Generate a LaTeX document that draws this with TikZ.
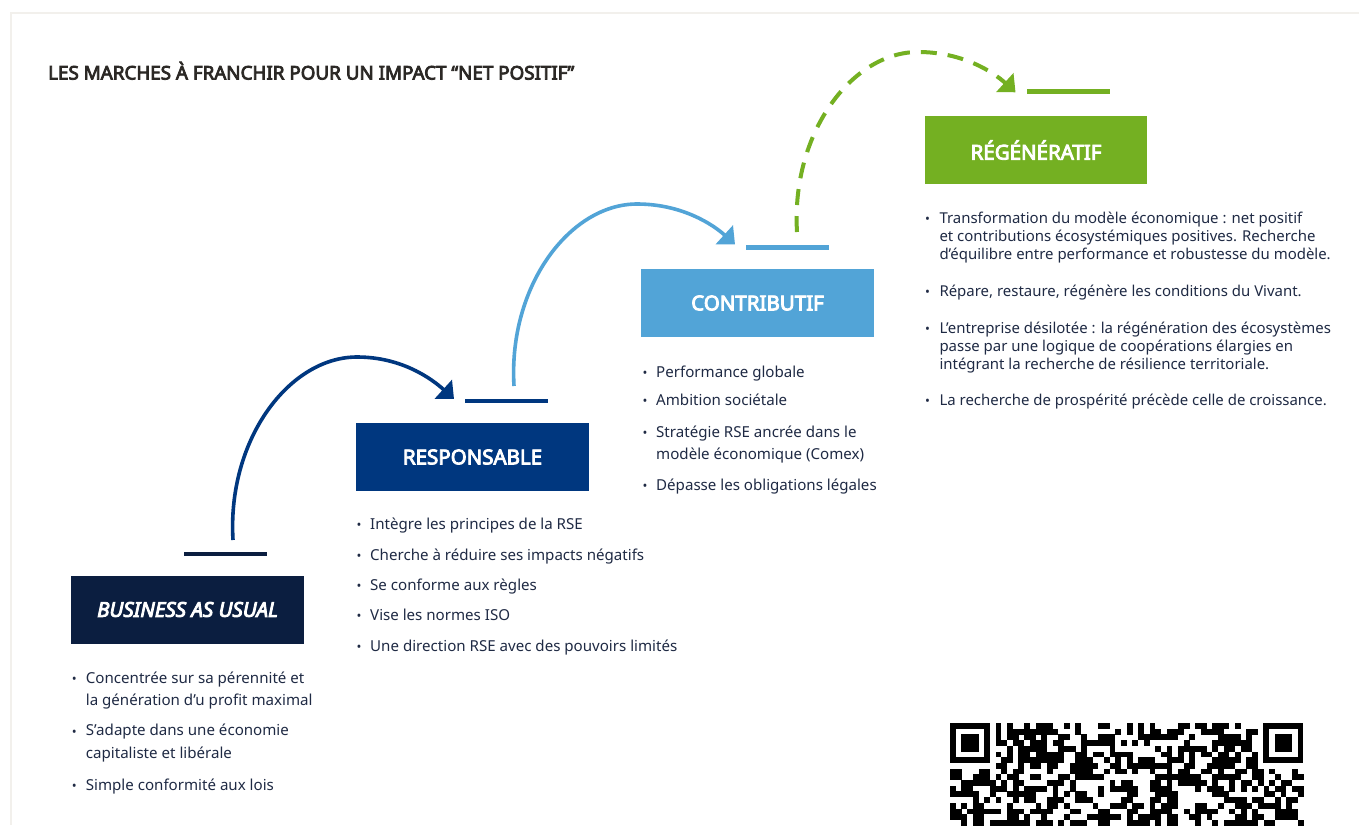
\documentclass[tikz,border=0pt]{standalone}
\usepackage{fontspec}
\setmainfont{Noto Sans}[AutoFakeBold=4.2]
\newfontfamily\bifont{Noto Sans}[FakeBold=4.2]
\usetikzlibrary{arrows.meta,calc}
\definecolor{txt}{HTML}{1F2A44}
\definecolor{ttl}{HTML}{2B2825}
\definecolor{bau}{HTML}{0B1E40}
\definecolor{resp}{HTML}{00377F}
\definecolor{contrib}{HTML}{52A4D7}
\definecolor{regen}{HTML}{74B022}
\definecolor{framec}{HTML}{F2F0EC}
\newcommand{\itemfont}{\fontsize{15.1}{22.6}\selectfont}
\newcommand{\itemfonttight}{\fontsize{14.95}{18.1}\selectfont}
\begin{document}
\begin{tikzpicture}[x=1pt,y=-1pt,
  stagebox/.style={minimum height=68pt, inner sep=0pt, text=white,
    font=\fontsize{20.5}{24}\selectfont\bfseries},
  stepline/.style={line width=4.6pt},
  itm/.style={anchor=base west, inner sep=0pt, align=left, text=txt, font=\itemfont},
  itmt/.style={itm, font=\itemfonttight},
  bul/.style={anchor=base, inner sep=0pt, text=txt, font=\fontsize{13}{15}\selectfont},
  arc/.style={line width=3.6pt, -{Triangle[width=25pt,length=14.5pt]}},
]
\useasboundingbox (0,0) rectangle (1359,825);
\fill[white] (0,0) rectangle (1359,825);
\draw[framec, line width=2.5pt] (11,825) -- (11,13) -- (1359,13);

% title
\node[anchor=base west, inner sep=0pt, text=ttl, font=\fontsize{18.8}{20}\selectfont\bfseries] (title) at (48,79.5)
  {LES MARCHES À FRANCHIR POUR UN IMPACT “NET POSITIF”};

% stage boxes
\node[stagebox, fill=bau, minimum width=233pt, font=\fontsize{20.5}{24}\selectfont\bifont\itshape] (bau) at (187.5,609.5) {BUSINESS AS USUAL};
\node[stagebox, fill=resp, minimum width=233pt] (resp) at (472.5,457) {RESPONSABLE};
\node[stagebox, fill=contrib, minimum width=233pt] (contrib) at (757.5,303) {CONTRIBUTIF};
\node[stagebox, fill=regen, minimum width=222pt] (regen) at (1036,150) {RÉGÉNÉRATIF};

% step lines
\draw[stepline, bau] (184,554) -- (267,554);
\draw[stepline, resp] (465,401) -- (548,401);
\draw[stepline, contrib] (746,247.5) -- (829,247.5);
\draw[stepline, regen] (1027,91.5) -- (1110,91.5);

% arc coordinates
\coordinate (s1) at (233,540);
\coordinate (e1) at (454,399);
\coordinate (s2) at (514,386);
\coordinate (e2) at (735,244.5);
\coordinate (s3) at (797,232);
\coordinate (e3) at (1015.5,92.3);

\draw[arc, resp] (s1) .. controls ($(s1)+(-6,-100)$) and ($(s1)+(56,-183)$) .. ($(s1)+(124,-183)$)
  .. controls ($(s1)+(169,-183)$) and ($(e1)+(-22,-20)$) .. (e1);
\draw[arc, contrib] (s2) .. controls ($(s2)+(-6,-100)$) and ($(s2)+(56,-182)$) .. ($(s2)+(123,-182)$)
  .. controls ($(s2)+(168,-182)$) and ($(e2)+(-22,-20)$) .. (e2);
\draw[arc, regen, line width=4pt, dash pattern=on 16pt off 11pt] (s3) .. controls ($(s3)+(-6,-99)$) and ($(s3)+(55,-180)$) .. ($(s3)+(121,-180)$)
  .. controls ($(s3)+(166,-180)$) and ($(e3)+(-22,-20)$) .. (e3);

% business as usual items (multi-line nodes: base = last line)
\node[bul] (b1b) at (74.3,683) {•};
\node[itm] (b1) at (85.7,705.7) {Concentrée sur sa pérennité et\\la génération d’u profit maximal};
\node[bul] (b2b) at (74.3,736) {•};
\node[itm] (b2) at (85.7,758.3) {S’adapte dans une économie\\capitaliste et libérale};
\node[bul] (b3b) at (74.3,790) {•};
\node[itm] (b3) at (85.7,790) {Simple conformité aux lois};

% responsable items
\node[bul] (r1b) at (359,529.3) {•};
\node[itm] (r1) at (370,529.3) {Intègre les principes de la RSE};
\node[bul] (r2b) at (359,560) {•};
\node[itm] (r2) at (370,560) {Cherche à réduire ses impacts négatifs};
\node[bul] (r3b) at (359,590.5) {•};
\node[itm] (r3) at (370,590.5) {Se conforme aux règles};
\node[bul] (r4b) at (359,620.8) {•};
\node[itm] (r4) at (370,620.8) {Vise les normes ISO};
\node[bul] (r5b) at (359,651) {•};
\node[itm] (r5) at (370,651) {Une direction RSE avec des pouvoirs limités};

% contributif items
\node[bul] (c1b) at (645,377.3) {•};
\node[itm] (c1) at (656,377.3) {Performance globale};
\node[bul] (c2b) at (645,405.7) {•};
\node[itm] (c2) at (656,405.7) {Ambition sociétale};
\node[bul] (c3b) at (645,437.3) {•};
\node[itm] (c3) at (656,459.6) {Stratégie RSE ancrée dans le\\modèle économique (Comex)};
\node[bul] (c4b) at (645,490) {•};
\node[itm] (c4) at (656,490) {Dépasse les obligations légales};

% regeneratif items
\node[bul] (g1b) at (927.5,223.3) {•};
\node[itmt] (g1) at (939.3,259.5) {Transformation du modèle économique : net positif\\et contributions écosystémiques positives. Recherche\\d’équilibre entre performance et robustesse du modèle.};
\node[bul] (g2b) at (927.5,296) {•};
\node[itmt] (g2) at (939.3,296) {Répare, restaure, régénère les conditions du Vivant.};
\node[bul] (g3b) at (927.5,333.3) {•};
\node[itmt] (g3) at (939.3,369.5) {L’entreprise désilotée : la régénération des écosystèmes\\passe par une logique de coopérations élargies en\\intégrant la recherche de résilience territoriale.};
\node[bul] (g4b) at (927.5,405) {•};
\node[itmt] (g4) at (939.3,405) {La recherche de prospérité précède celle de croissance.};

% QR code (cropped at the bottom edge)
\begin{scope}
\clip (930,700) rectangle (1320,825);
\foreach \fx in {950,1263.4}{
  \fill[black] (\fx,723) rectangle ++(39.9,39.9);
  \fill[white] (\fx+5.7,728.7) rectangle ++(28.5,28.5);
  \fill[black] (\fx+11.4,734.4) rectangle ++(17.1,17.1);
}
\pgfmathsetseed{12}
\foreach \r in {0,...,17}{\foreach \c in {0,...,61}{
  \pgfmathtruncatemacro\qb{random(0,99)<56 ? 1 : 0}
  \pgfmathtruncatemacro\qok{((\r<8)&&((\c<8)||(\c>53)))?0:\qb}
  \ifnum\qok=1 \fill[black] (950+\c*5.7,723+\r*5.7) rectangle ++(5.8,5.8);\fi
}}
\end{scope}
\end{tikzpicture}
\end{document}
